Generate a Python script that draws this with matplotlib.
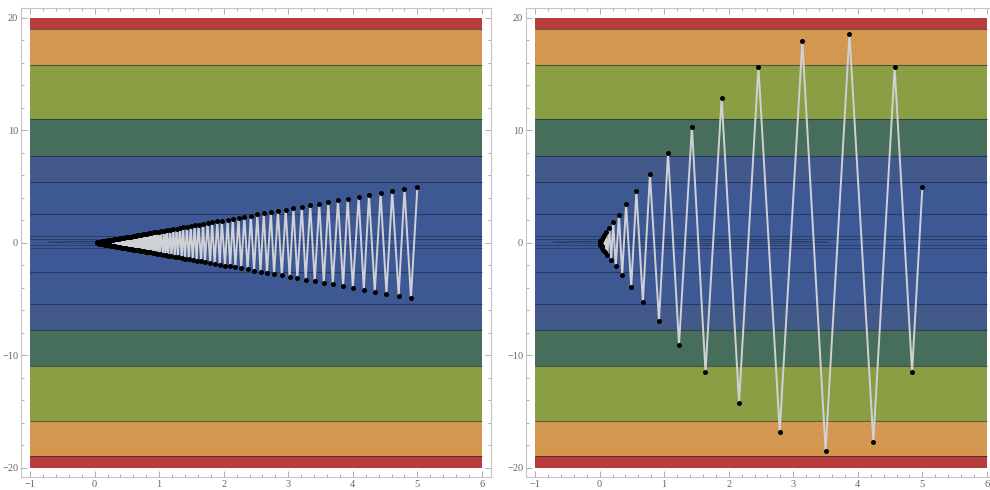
import matplotlib
matplotlib.use("Agg")
import numpy as np
import matplotlib.pyplot as plt
from matplotlib.patches import Ellipse
from matplotlib.ticker import MultipleLocator

# ---- contour bands (|y| boundaries) ----
band_edges = [-20, -18.97, -15.82, -10.97, -7.75, -5.45, -2.6,
              2.6, 5.45, 7.75, 10.97, 15.82, 18.97, 20]
band_colors = ["#B93C3D", "#D4974F", "#8A9E43", "#466E5A", "#42598A", "#3D5892",
               "#3D5894",
               "#3D5892", "#42598A", "#466E5A", "#8A9E43", "#D4974F", "#B93C3D"]
inner_lines = [0.59, 0.38, -0.21, -0.5]

# ---- left panel: gradient descent path ----
left_x = [5.00, 4.90, 4.80, 4.71, 4.61, 4.52, 4.43, 4.34, 4.25, 4.17,
          4.09, 4.00, 3.92, 3.85, 3.77, 3.69, 3.62, 3.55, 3.48, 3.41,
          3.34, 3.27, 3.21, 3.14, 3.08, 3.02, 2.96, 2.90, 2.84, 2.78,
          2.73, 2.67, 2.62, 2.57, 2.52, 2.47, 2.42, 2.37, 2.32, 2.27,
          2.23, 2.18, 2.14, 2.10, 2.06, 2.02, 1.97, 1.94, 1.90, 1.86,
          1.82, 1.79, 1.75, 1.71, 1.68, 1.65, 1.61, 1.58, 1.55, 1.52,
          1.49, 1.46, 1.43, 1.40, 1.37, 1.35, 1.32, 1.29, 1.27, 1.24,
          1.22, 1.19, 1.17, 1.14, 1.12, 1.10, 1.08, 1.06, 1.03, 1.01,
          0.99, 0.97, 0.95, 0.94, 0.92, 0.90, 0.88, 0.86, 0.85, 0.83,
          0.81, 0.80, 0.78, 0.76, 0.75, 0.73, 0.72, 0.71, 0.69, 0.68,
          0.66, 0.65, 0.64, 0.62, 0.61, 0.60, 0.59, 0.58, 0.56, 0.55,
          0.54, 0.53, 0.52, 0.51, 0.50, 0.49, 0.48, 0.47, 0.46, 0.45,
          0.44, 0.43, 0.43, 0.42, 0.41, 0.40, 0.39, 0.38, 0.38, 0.37,
          0.36, 0.35, 0.35, 0.34, 0.33, 0.33, 0.32, 0.31, 0.31, 0.30,
          0.30, 0.29, 0.28, 0.28, 0.27, 0.27, 0.26, 0.26, 0.25, 0.25,
          0.24, 0.24, 0.23, 0.23, 0.22, 0.22, 0.21, 0.21, 0.21, 0.20,
          0.20, 0.19, 0.19, 0.19, 0.18, 0.18, 0.17, 0.17, 0.17, 0.16,
          0.16, 0.16, 0.15, 0.15, 0.15, 0.14, 0.14, 0.14, 0.13, 0.13,
          0.13, 0.13, 0.12, 0.12, 0.12, 0.11, 0.11, 0.11, 0.11, 0.10,
          0.10, 0.09, 0.08, 0.07, 0.06, 0.05, 0.04, 0.03]
left_y = [5.00, -4.90, 4.80, -4.71, 4.61, -4.52, 4.43, -4.34, 4.25, -4.17,
          4.09, -4.00, 3.92, -3.85, 3.77, -3.69, 3.62, -3.55, 3.48, -3.41,
          3.34, -3.27, 3.21, -3.14, 3.08, -3.02, 2.96, -2.90, 2.84, -2.78,
          2.73, -2.67, 2.62, -2.57, 2.52, -2.47, 2.42, -2.37, 2.32, -2.27,
          2.23, -2.18, 2.14, -2.10, 2.06, -2.02, 1.97, -1.94, 1.90, -1.86,
          1.82, -1.79, 1.75, -1.71, 1.68, -1.65, 1.61, -1.58, 1.55, -1.52,
          1.49, -1.46, 1.43, -1.40, 1.37, -1.35, 1.32, -1.29, 1.27, -1.24,
          1.22, -1.19, 1.17, -1.14, 1.12, -1.10, 1.08, -1.06, 1.03, -1.01,
          0.99, -0.97, 0.95, -0.94, 0.92, -0.90, 0.88, -0.86, 0.85, -0.83,
          0.81, -0.80, 0.78, -0.76, 0.75, -0.73, 0.72, -0.71, 0.69, -0.68,
          0.66, -0.65, 0.64, -0.62, 0.61, -0.60, 0.59, -0.58, 0.56, -0.55,
          0.54, -0.53, 0.52, -0.51, 0.50, -0.49, 0.48, -0.47, 0.46, -0.45,
          0.44, -0.43, 0.43, -0.42, 0.41, -0.40, 0.39, -0.38, 0.38, -0.37,
          0.36, -0.35, 0.35, -0.34, 0.33, -0.33, 0.32, -0.31, 0.31, -0.30,
          0.30, -0.29, 0.28, -0.28, 0.27, -0.27, 0.26, -0.26, 0.25, -0.25,
          0.24, -0.24, 0.23, -0.23, 0.22, -0.22, 0.21, -0.21, 0.21, -0.20,
          0.20, -0.19, 0.19, -0.19, 0.18, -0.18, 0.17, -0.17, 0.17, -0.16,
          0.16, -0.16, 0.15, -0.15, 0.15, -0.14, 0.14, -0.14, 0.13, -0.13,
          0.13, -0.13, 0.12, -0.12, 0.12, -0.11, 0.11, -0.11, 0.11, -0.10,
          0.10, -0.09, 0.08, -0.07, 0.06, -0.05, 0.04, -0.03]

# ---- right panel: oscillating path ----
right_x = [5.00, 4.84, 4.57, 4.24, 3.87, 3.50, 3.14, 2.79, 2.46, 2.16,
           1.89, 1.64, 1.43, 1.23, 1.06, 0.92, 0.78, 0.67, 0.57, 0.49,
           0.41, 0.35, 0.30, 0.25, 0.21, 0.18, 0.15, 0.12, 0.10, 0.085,
           0.07, 0.06, 0.05, 0.04, 0.035, 0.03, 0.025, 0.02, 0.015, 0.01,
           0.008, 0.005, 0.003, 0.0]
right_y = [5.0, -11.5, 15.6, -17.7, 18.6, -18.5, 17.9, -16.8, 15.65, -14.2,
           12.9, -11.5, 10.3, -9.06, 8.0, -6.93, 6.09, -5.24, 4.58, -3.91,
           3.43, -2.87, 2.51, -2.10, 1.86, -1.51, 1.33, -1.10, 0.98, -0.83,
           0.71, -0.60, 0.51, -0.43, 0.37, -0.31, 0.27, -0.23, 0.19, -0.16,
           0.12, -0.08, 0.05, 0.0]

x_range = [-1, 6]
tick_font = "Liberation Serif"


def draw_panel(ax, px, py):
    for i in range(len(band_colors)):
        ax.fill_between(x_range, band_edges[i], band_edges[i + 1],
                        color=band_colors[i], lw=0, zorder=0)
    ax.hlines(band_edges[1:-1], x_range[0], x_range[1], color="#15203a",
              lw=0.8, alpha=0.55, zorder=1)
    ax.hlines(inner_lines, x_range[0], x_range[1], color="#15203a",
              lw=0.7, alpha=0.45, zorder=1)
    ax.add_patch(Ellipse((1.4, 0.05), 4.25, 0.22, fill=False,
                         ec="#15203a", lw=0.7, alpha=0.45, zorder=1))

    ax.plot(px, py, color="#d0d1d7", lw=1.4, zorder=2)
    ax.plot(px, py, "o", color="black", ms=3.6, mew=0, zorder=3)

    ax.set_xlim(-1.14, 6.14)
    ax.set_ylim(-20.85, 20.85)
    ax.xaxis.set_major_locator(MultipleLocator(1))
    ax.xaxis.set_minor_locator(MultipleLocator(0.2))
    ax.yaxis.set_major_locator(MultipleLocator(10))
    ax.yaxis.set_minor_locator(MultipleLocator(2))
    ax.tick_params(which="both", direction="in", top=True, right=True,
                   color="#a0a0a0", width=0.6, labelsize=7.5,
                   labelcolor="#666666", pad=2)
    ax.tick_params(which="major", length=4)
    ax.tick_params(which="minor", length=2.2)
    for lab in ax.get_xticklabels() + ax.get_yticklabels():
        lab.set_family(tick_font)
    for sp in ax.spines.values():
        sp.set_color("#c4c4c4")
        sp.set_linewidth(0.8)


fig = plt.figure(figsize=(9.9, 4.9), dpi=100)
ax_left = fig.add_axes([21 / 990, 12.7 / 490, 470 / 990, 469 / 490])
ax_right = fig.add_axes([526 / 990, 12.7 / 490, 470 / 990, 469 / 490])

draw_panel(ax_left, left_x, left_y)
draw_panel(ax_right, right_x, right_y)

fig.savefig("out.png", dpi=100)
